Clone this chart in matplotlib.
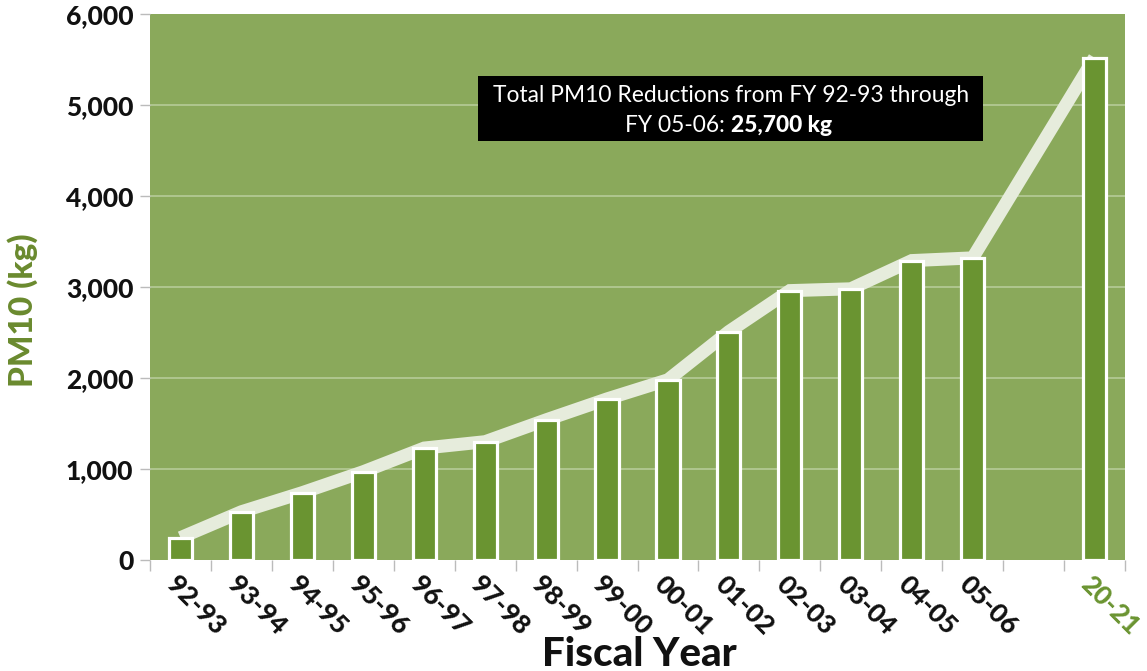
import matplotlib
matplotlib.use("Agg")
import matplotlib.pyplot as plt
from matplotlib.patches import Rectangle
from matplotlib.ticker import FuncFormatter, FixedLocator

plt.rcParams['font.family'] = ['Lato', 'DejaVu Sans']

# PM10 reductions by fiscal year (kg)
fiscal_years = ["92-93", "93-94", "94-95", "95-96", "96-97", "97-98", "98-99",
                "99-00", "00-01", "01-02", "02-03", "03-04", "04-05", "05-06", "20-21"]
pm10_kg = [245, 530, 740, 970, 1230, 1300, 1540, 1770, 1980, 2510,
           2960, 2980, 3290, 3320, 5520]
# one empty slot separates the historical series from the latest year
gap_before = "20-21"
y_ticks = [0, 1000, 2000, 3000, 4000, 5000, 6000]
total_note = "25,700 kg"

BG = "#8aa95b"
BAR = "#6a9431"
BAND = "#e6ecdc"
GRID = "#b6cb98"
TICKC = "#bbbbbb"
LABEL_GREEN = "#6a8a2e"
HEAVY = "black"

positions = []
slot = 0
for fy in fiscal_years:
    if fy == gap_before:
        slot += 1
    positions.append(slot + 0.5)
    slot += 1
n_slots = slot

W, H, DPI = 1147, 671, 100
fig = plt.figure(figsize=(W / DPI, H / DPI), dpi=DPI)
ax = fig.add_axes([150 / W, (H - 560) / H, 975 / W, 546 / H])
ax.set_facecolor(BG)
for s in ax.spines.values():
    s.set_visible(False)

ax.set_xlim(0, n_slots)
ax.set_ylim(y_ticks[0], y_ticks[-1])

# horizontal gridlines
for yv in y_ticks[1:-1]:
    ax.axhline(yv, color=GRID, lw=1.2, zorder=1)

# pale trend band through the bar tops
ax.plot(positions, pm10_kg, color=BAND, lw=9.4, solid_joinstyle="miter",
        solid_capstyle="butt", zorder=2)

ax.bar(positions, pm10_kg, width=0.38, color=BAR, edgecolor="white",
       linewidth=2.3, zorder=3)

# y axis ticks
ax.yaxis.set_major_locator(FixedLocator(y_ticks))
ax.yaxis.set_major_formatter(FuncFormatter(lambda v, p: f"{int(v):,}"))
ax.tick_params(axis="y", length=7, width=1, color=TICKC, pad=5,
               labelsize=19, labelcolor="#111111")
for lab in ax.get_yticklabels():
    lab.set_fontweight(HEAVY)

# x axis: tick marks on slot boundaries, labels at slot centres
ax.xaxis.set_major_locator(FixedLocator(list(range(n_slots + 1))))
ax.set_xticklabels([])
ax.tick_params(axis="x", length=8, width=1, color=TICKC)

for fy, xp in zip(fiscal_years, positions):
    ax.annotate(fy, xy=(xp, 0), xycoords="data", xytext=(-10, -20),
                textcoords="offset pixels", rotation=-45,
                rotation_mode="anchor", ha="left", va="center",
                fontsize=19, fontweight=HEAVY,
                color=BAR if fy == gap_before else "#111111")

fig.text(639 / W, 1 - 654 / H, "Fiscal Year", ha="center", va="center",
         fontsize=29, fontweight=HEAVY, color="#111111")
fig.text(23 / W, 1 - 310 / H, "PM10 (kg)", ha="center", va="center",
         rotation=90, fontsize=24, fontweight=HEAVY, color=LABEL_GREEN)

# note box
bx0, by0, bx1, by1 = 478, 76, 983, 141
fig.patches.append(Rectangle((bx0 / W, 1 - by1 / H), (bx1 - bx0) / W,
                             (by1 - by0) / H, transform=fig.transFigure,
                             facecolor="black", edgecolor="none", zorder=5))
fig.text(731 / W, 1 - 95 / H, "Total PM10 Reductions from FY 92-93 through",
         ha="center", va="center", fontsize=16.4, color="white", zorder=6)
fig.text(731 / W, 1 - 125 / H, "FY 05-06: ", ha="right",
         va="center", fontsize=16.4, color="white", zorder=6)
fig.text(731 / W, 1 - 125 / H, total_note, ha="left", va="center",
         fontsize=16.4, fontweight=HEAVY, color="white", zorder=6)

fig.savefig("out.png", dpi=DPI, facecolor="white")
